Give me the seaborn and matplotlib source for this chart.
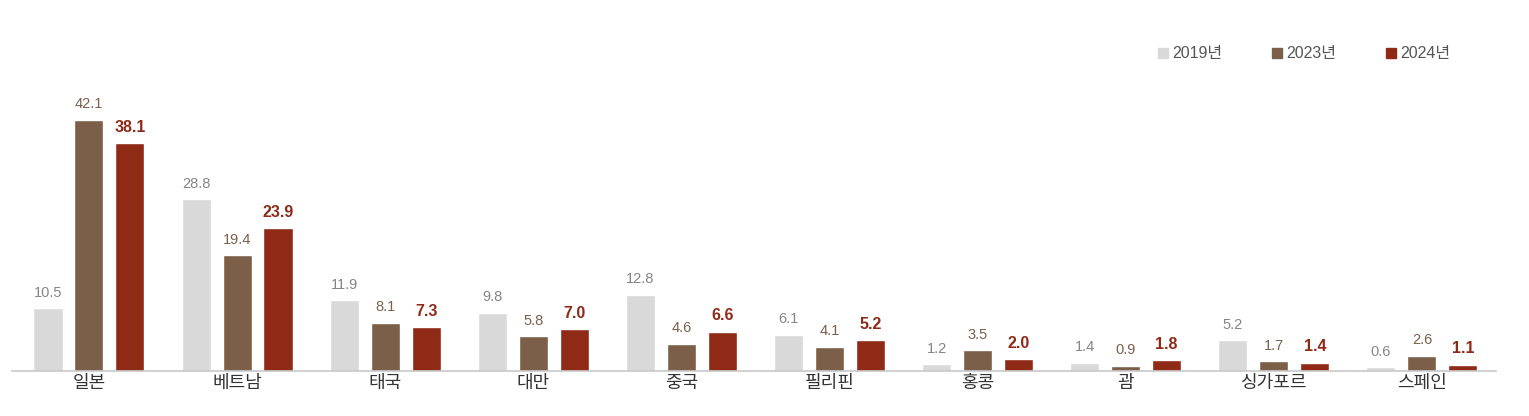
import pandas as pd
import numpy as np
import matplotlib.pyplot as plt
import seaborn as sns
from matplotlib.patches import Patch

countries = ['일본', '베트남', '태국', '대만', '중국', '필리핀', '홍콩', '괌', '싱가포르', '스페인']
years = ['2019년', '2023년', '2024년']
v2019 = [10.5, 28.8, 11.9, 9.8, 12.8, 6.1, 1.2, 1.4, 5.2, 0.6]
v2023 = [42.1, 19.4, 8.1, 5.8, 4.6, 4.1, 3.5, 0.9, 1.7, 2.6]
v2024 = [38.1, 23.9, 7.3, 7.0, 6.6, 5.2, 2.0, 1.8, 1.4, 1.1]

bar_colors = ['#d9d9d9', '#7b5f48', '#8f2a17']
label_colors = ['#858585', '#7b5f48', '#8f2a17']

df = pd.DataFrame({
    'country': countries * 3,
    'year': [y for y in years for _ in countries],
    'value': v2019 + v2023 + v2024,
})

sns.set_style('white')
plt.rcParams['font.family'] = ['Liberation Sans', 'Noto Sans CJK KR', 'DejaVu Sans']

fig = plt.figure(figsize=(15.29, 4.16), dpi=100)
ax = fig.add_axes([0.0078, 0.108, 0.9706, 0.84])

sns.barplot(data=df, x='country', y='value', hue='year', palette=bar_colors,
            width=0.83, gap=0.29, ax=ax, legend=False, saturation=1)

for i, cont in enumerate(ax.containers):
    labels = ['%.1f' % v for v in cont.datavalues]
    if i == 2:
        ax.bar_label(cont, labels=labels, padding=6, color=label_colors[i],
                     fontsize=11.5, fontweight='bold')
    else:
        ax.bar_label(cont, labels=labels, padding=6, color=label_colors[i],
                     fontsize=10.5)

ax.set_xlim(-0.52, 9.5)
ax.set_ylim(0, 58.5)
ax.set_xlabel('')
ax.set_ylabel('')
ax.set_yticks([])
ax.tick_params(axis='x', length=0, labelsize=13, colors='#333333', pad=2)
for lbl in ax.get_xticklabels():
    lbl.set_family(['Noto Sans CJK KR', 'DejaVu Sans'])
for s in ['top', 'right', 'left']:
    ax.spines[s].set_visible(False)
ax.spines['bottom'].set_color('#c8c8c8')
ax.spines['bottom'].set_linewidth(1.2)

handles = [Patch(color=c) for c in bar_colors]
ax.legend(handles, years, loc='upper right', bbox_to_anchor=(0.979, 0.97),
          ncol=3, frameon=False, handlelength=0.6, handleheight=0.6,
          handletextpad=0.3, columnspacing=3.1,
          prop={'size': 11.5}, labelcolor='#555555')

fig.savefig('out.png', dpi=100)
